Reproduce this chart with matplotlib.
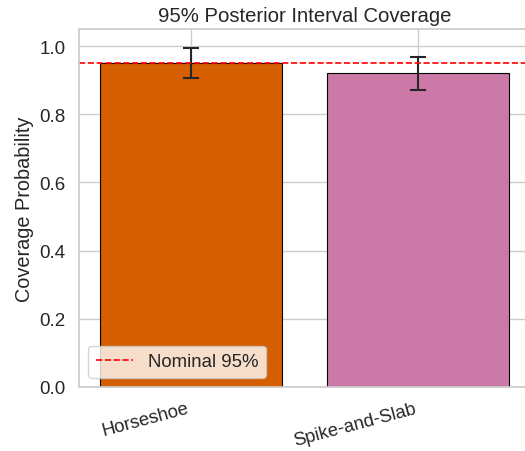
import matplotlib
matplotlib.use("Agg")
import matplotlib.pyplot as plt
import seaborn as sns

methods = ["Horseshoe", "Spike-and-Slab"]
coverage = [0.950, 0.920]
err_low = [0.905, 0.871]
err_high = [0.994, 0.968]
colors = ["#d55e00", "#cc79a7"]
nominal = 0.95

sns.set_theme(style="whitegrid")
plt.rcParams['font.family'] = ['Liberation Sans', 'DejaVu Sans']

fig = plt.figure(figsize=(5.25, 4.52), dpi=100)
ax = fig.add_axes([0.1505, 0.1416, 0.859, 0.792])

x = list(range(len(methods)))
yerr = [[c - l for c, l in zip(coverage, err_low)],
        [h - c for c, h in zip(coverage, err_high)]]
ax.bar(x, coverage, width=0.8, color=colors, edgecolor="black", linewidth=0.8,
       yerr=yerr, capsize=6, error_kw=dict(ecolor="#262626", elinewidth=1.5, capthick=1.5))
ax.axhline(nominal, color="red", linestyle="--", linewidth=1.2, label="Nominal 95%")

ax.set_xlim(-0.49, 1.49)
ax.set_ylim(0, 1.05)
ax.set_xticks(x)
ax.set_xticklabels(methods, rotation=15, ha="right", fontsize=13.3)
ax.tick_params(axis="x", pad=3)
ax.tick_params(axis="y", labelsize=13.5)
ax.set_ylabel("Coverage Probability", fontsize=14.3)
ax.set_title("95% Posterior Interval Coverage", fontsize=14.6)
ax.legend(loc="lower left", fontsize=13.4)

fig.savefig("out.png", dpi=100)
